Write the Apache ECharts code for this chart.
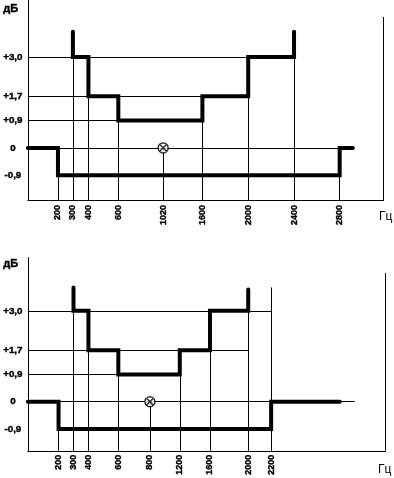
<!DOCTYPE html>
<html><head><meta charset="utf-8">
<script src="https://cdn.jsdelivr.net/npm/echarts@6/dist/echarts.min.js"></script>
<style>html,body{margin:0;padding:0;background:#fff}#c{width:394px;height:478px}</style>
</head><body><div id="c"></div>
<script>
// ===== DATA =====
const yTickValues = [3.0, 1.7, 0.9, 0, -0.9];
const yTickLabels = ['+3,0', '+1,7', '+0,9', '0', '-0,9'];

// --- upper drawing ---
const topTickFreqs = [200, 300, 400, 600, 1020, 1600, 2000, 2400, 2800];
const topUpperFreqs = [300, 300, 400, 400, 600, 600, 1600, 1600, 2000, 2000, 2400, 2400];
const topUpperDb    = [3.83, 3.0, 3.0, 1.7, 1.7, 0.9, 0.9, 1.7, 1.7, 3.0, 3.0, 3.83];
const topLowerFreqs = [0, 200, 200, 2800, 2800, 2920];
const topLowerDb    = [0, 0, -0.9, -0.9, 0, 0];
const topMarker     = [1020, 0];
const topHGuideDb   = [3.0, 1.7, 0.9, 0];
const topHGuideEnd  = [2400, 2000, 1600, 2800];
const topVGuideFreq = [200, 300, 400, 600, 1020, 1600, 2000, 2400, 2800];
const topVGuideDb   = [-0.9, 3.0, 1.7, 0.9, 0, 0.9, 1.7, 3.0, -0.9];

// --- lower drawing ---
const botTickFreqs = [200, 300, 400, 600, 800, 1200, 1600, 2000, 2200];
const botUpperFreqs = [300, 300, 400, 400, 600, 600, 1200, 1200, 1600, 1600, 2000, 2000];
const botUpperDb    = [3.77, 3.0, 3.0, 1.7, 1.7, 0.9, 0.9, 1.7, 1.7, 3.0, 3.0, 3.70];
const botLowerFreqs = [0, 200, 200, 2200, 2200, 2800];
const botLowerDb    = [0, 0, -0.9, -0.9, 0, 0];
const botMarker     = [800, 0];
const botHGuideDb   = [3.0, 1.7, 0.9, 0];
const botHGuideEnd  = [2200, 2000, 1200, 2930];
const botVGuideFreq = [200, 300, 400, 600, 800, 1200, 1600, 2000, 2200];
const botVGuideDb   = [-0.9, 3.0, 1.7, 0.9, 0, 0.9, 1.7, 3.0, 3.77];

// ===== SCALES (schematic, non-linear frequency axis of each drawing) =====
const topScale = {f: [0, 200, 300, 400, 600, 1020, 1600, 2000, 2400, 2800, 3200],
                  u: [0, 30.2, 45.2, 60.8, 90.8, 135.8, 175.2, 221.2, 267.2, 313, 357]};
const botScale = {f: [0, 200, 300, 400, 600, 800, 1200, 1600, 2000, 2200, 3200],
                  u: [0, 30.8, 45.8, 60.8, 90.8, 122.5, 152.5, 182.8, 221.2, 244.2, 359]};
const FRAME_FREQ = 3200;
const topY = {min: -1.72, max: 4.88, frameTop: 4.32};
const botY = {min: -1.62, max: 4.76, frameTop: 4.25};

function fx(s, f) {
  for (let i = 1; i < s.f.length; i++) {
    if (f <= s.f[i] || i === s.f.length - 1) {
      const t = (f - s.f[i - 1]) / (s.f[i] - s.f[i - 1]);
      return s.u[i - 1] + t * (s.u[i] - s.u[i - 1]);
    }
  }
}

const FONT = '"Liberation Sans", Arial, sans-serif';

function buildSeries(idx, s, yr, d) {
  const guides = [];
  d.hDb.forEach((db, i) => guides.push({coords: [[0, db], [fx(s, d.hEnd[i]), db]]}));
  d.vF.forEach((f, i) => guides.push({coords: [[fx(s, f), yr.min], [fx(s, f), d.vDb[i]]]}));
  guides.push({coords: [[fx(s, FRAME_FREQ), yr.min], [fx(s, FRAME_FREQ), yr.frameTop]]});
  const thick = {color: '#000', width: 4, cap: 'round', join: 'miter'};
  return [
    {type: 'lines', coordinateSystem: 'cartesian2d', xAxisIndex: idx, yAxisIndex: idx,
     silent: true, lineStyle: {color: '#000', width: 1, opacity: 1}, data: guides, z: 2},
    {type: 'line', xAxisIndex: idx, yAxisIndex: idx, showSymbol: false, silent: true,
     lineStyle: thick, data: d.upF.map((f, i) => [fx(s, f), d.upDb[i]]), z: 3},
    {type: 'line', xAxisIndex: idx, yAxisIndex: idx, showSymbol: false, silent: true,
     lineStyle: thick, data: d.loF.map((f, i) => [fx(s, f), d.loDb[i]]), z: 3},
    {type: 'scatter', xAxisIndex: idx, yAxisIndex: idx, silent: true, z: 4,
     symbol: 'path://M0,5A5,5,0,1,1,10,5A5,5,0,1,1,0,5ZM1.6,1.6L8.4,8.4M8.4,1.6L1.6,8.4',
     symbolSize: 10,
     itemStyle: {color: '#fff', borderColor: '#000', borderWidth: 1.5},
     data: [[fx(s, d.marker[0]), d.marker[1]]]}
  ];
}

function xAxisFor(idx, s, ticks, margin) {
  const pos = ticks.map(f => fx(s, f));
  return {
    type: 'value', gridIndex: idx, min: 0, max: fx(s, FRAME_FREQ),
    axisLine: {show: true, onZero: false, lineStyle: {color: '#000', width: 1}},
    axisTick: {show: false}, splitLine: {show: false},
    axisLabel: {
      customValues: pos, rotate: 90, margin: margin, color: '#000',
      fontFamily: FONT, fontWeight: 'bold', fontSize: 9,
      textBorderColor: '#000', textBorderWidth: 0.4,
      formatter: v => {
        let best = 0;
        pos.forEach((p, i) => { if (Math.abs(p - v) < Math.abs(pos[best] - v)) best = i; });
        return String(ticks[best]);
      }
    }
  };
}

function yAxisFor(idx, yr) {
  return {
    type: 'value', gridIndex: idx, min: yr.min, max: yr.max,
    axisLine: {show: true, onZero: false, lineStyle: {color: '#000', width: 1}},
    axisTick: {show: false}, splitLine: {show: false},
    axisLabel: {
      customValues: yTickValues, align: 'center', margin: 15, color: '#000',
      fontFamily: FONT, fontWeight: 'bold', fontSize: 9.8,
      textBorderColor: '#000', textBorderWidth: 0.4,
      formatter: v => {
        let best = 0;
        yTickValues.forEach((p, i) => { if (Math.abs(p - v) < Math.abs(yTickValues[best] - v)) best = i; });
        return yTickLabels[best];
      }
    }
  };
}

const chart = echarts.init(document.getElementById('c'), null, {renderer: 'canvas'});
chart.setOption({
  animation: false,
  backgroundColor: '#fff',
  grid: [
    {left: 26.5, top: 0, width: 357, height: 200},
    {left: 26.5, top: 257.5, width: 359, height: 196.5}
  ],
  xAxis: [xAxisFor(0, topScale, topTickFreqs, 5), xAxisFor(1, botScale, botTickFreqs, 4)],
  yAxis: [yAxisFor(0, topY), yAxisFor(1, botY)],
  series: [
    ...buildSeries(0, topScale, topY, {hDb: topHGuideDb, hEnd: topHGuideEnd, vF: topVGuideFreq, vDb: topVGuideDb,
      upF: topUpperFreqs, upDb: topUpperDb, loF: topLowerFreqs, loDb: topLowerDb, marker: topMarker}),
    ...buildSeries(1, botScale, botY, {hDb: botHGuideDb, hEnd: botHGuideEnd, vF: botVGuideFreq, vDb: botVGuideDb,
      upF: botUpperFreqs, upDb: botUpperDb, loF: botLowerFreqs, loDb: botLowerDb, marker: botMarker})
  ],
  graphic: [
    {type: 'text', left: 3, top: 3, style: {text: 'дБ', fill: '#000', stroke: '#000', lineWidth: 0.4, font: 'bold 11px ' + FONT}},
    {type: 'text', left: 3, top: 258, style: {text: 'дБ', fill: '#000', stroke: '#000', lineWidth: 0.4, font: 'bold 11px ' + FONT}},
    {type: 'text', left: 379, top: 211, style: {text: 'Гц', fill: '#000', font: '12px ' + FONT}},
    {type: 'text', left: 378, top: 464, style: {text: 'Гц', fill: '#000', font: '12px ' + FONT}}
  ]
});
</script>
</body></html>
